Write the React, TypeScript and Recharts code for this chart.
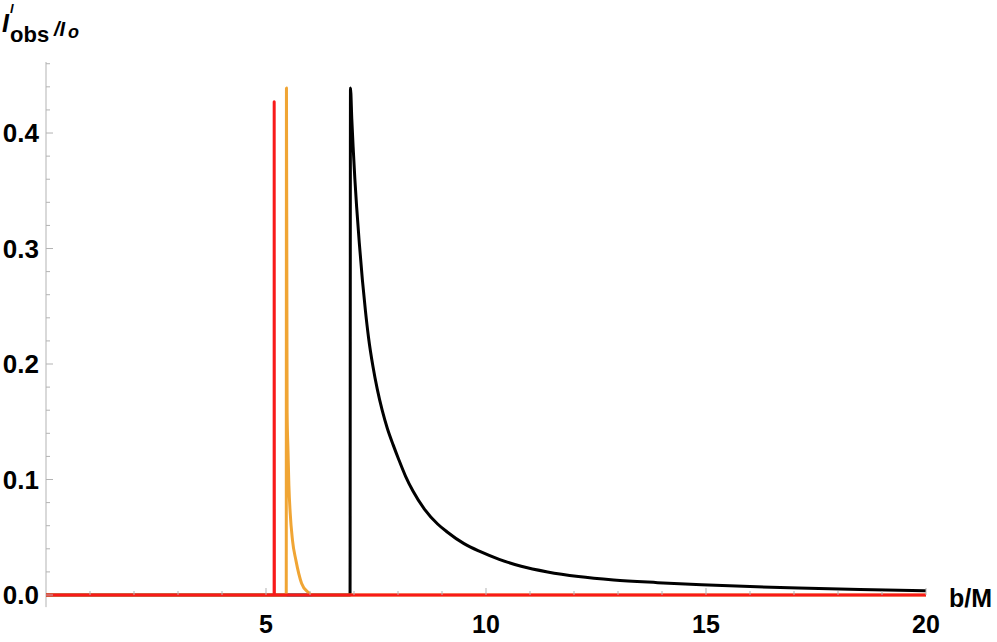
import React from 'react';
import { LineChart, Line, XAxis, YAxis, ReferenceLine } from 'recharts';

// black curve (outer ring)
const blackB = [0, 6.91, 6.92, 6.95, 6.98, 7.02, 7.06, 7.12, 7.19, 7.26, 7.33, 7.43, 7.53, 7.64, 7.76, 7.89, 8.01, 8.17, 8.34, 8.6, 8.9, 9.11, 9.5, 9.86, 10.3, 10.8, 11.4, 12.1, 12.9, 13.9, 14.9, 16, 17.1, 18.5, 20];
const blackI = [0, 0, 0.439, 0.412, 0.388, 0.36, 0.336, 0.305, 0.273, 0.246, 0.223, 0.198, 0.178, 0.16, 0.144, 0.13, 0.118, 0.103, 0.09, 0.0744, 0.0615, 0.0548, 0.0445, 0.0377, 0.0309, 0.0249, 0.02, 0.016, 0.013, 0.0107, 0.0088, 0.0073, 0.0061, 0.0048, 0.0036];

// orange curve
const orangeB = [0, 5.46, 5.465, 5.475, 5.48, 5.5, 5.52, 5.55, 5.6, 5.68, 5.81, 5.95, 6.05, 20];
const orangeI = [0, 0, 0.439, 0.25, 0.158, 0.125, 0.095, 0.071, 0.048, 0.03, 0.01, 0.0026, 0, 0];

// red curve (thin spike)
const redB = [0, 5.185, 5.186, 5.19, 20];
const redI = [0, 0, 0.427, 0, 0];

const xTicks = [1, 2, 3, 4, 5, 6, 7, 8, 9, 10, 11, 12, 13, 14, 15, 16, 17, 18, 19, 20];
const xMajor = [5, 10, 15, 20];
const yTicks = [0, 0.02, 0.04, 0.06, 0.08, 0.1, 0.12, 0.14, 0.16, 0.18, 0.2, 0.22, 0.24, 0.26, 0.28, 0.3, 0.32, 0.34, 0.36, 0.38, 0.4, 0.42, 0.44, 0.46];
const yMajor = [0, 0.1, 0.2, 0.3, 0.4];

const toSeries = (bs: number[], is: number[]) => bs.map((b, i) => ({ b, I: is[i] }));

const blackData = toSeries(blackB, blackI);
const orangeData = toSeries(orangeB, orangeI);
const redData = toSeries(redB, redI);

const axisGrey = '#b3b3b3';
const font = '"Liberation Sans", Arial, sans-serif';

const YTick = (props: any) => {
  const { x, y, payload } = props;
  const v = payload.value;
  const major = yMajor.includes(v);
  return (
    <g>
      <line x1={x} x2={x + (major ? 7 : 4)} y1={y} y2={y} stroke={axisGrey} strokeWidth={1} />
      {major && (
        <text x={x - 7} y={y} dy="0.36em" textAnchor="end" fontFamily={font} fontWeight="bold" fontSize={26} fill="#000">
          {v.toFixed(1)}
        </text>
      )}
    </g>
  );
};

const XTick = (props: any) => {
  const { x, y, payload } = props;
  const v = payload.value;
  const major = xMajor.includes(v);
  return (
    <g>
      <line x1={x} x2={x} y1={y} y2={y - (major ? 7 : 4)} stroke={axisGrey} strokeWidth={1} />
      {major && (
        <text x={x} y={y + 38} textAnchor="middle" fontFamily={font} fontWeight="bold" fontSize={25} fill="#000">
          {v}
        </text>
      )}
    </g>
  );
};

export default function App() {
  return (
    <div style={{ position: 'relative', width: 997, height: 642, background: '#fff' }}>
      <style>{`body{margin:0}`}</style>
      <LineChart width={997} height={642} margin={{ top: 62, right: 71, bottom: 7, left: 0 }}>
        <XAxis
          dataKey="b"
          type="number"
          domain={[0, 20]}
          ticks={xTicks}
          interval={0}
          tickSize={0}
          tickMargin={0}
          tickLine={false}
          axisLine={false}
          tick={<XTick />}
          height={40}
        />
        <YAxis
          type="number"
          domain={[0, 0.4615]}
          ticks={yTicks}
          interval={0}
          tickSize={0}
          tickMargin={0}
          tickLine={false}
          axisLine={false}
          tick={<YTick />}
          width={46}
        />
        <ReferenceLine
          segment={[{ x: 0, y: -0.0105 }, { x: 0, y: 0.4615 }]}
          stroke={axisGrey}
          strokeWidth={1}
          ifOverflow="visible"
        />
        <Line data={blackData} dataKey="I" type="monotone" stroke="#000" strokeWidth={3} dot={false} activeDot={false} strokeLinejoin="round" isAnimationActive={false} />
        <Line data={orangeData} dataKey="I" type="monotone" stroke="#f0a534" strokeWidth={3} dot={false} activeDot={false} strokeLinejoin="round" isAnimationActive={false} />
        <Line data={redData} dataKey="I" type="linear" stroke="#f81a1a" strokeWidth={3} dot={false} activeDot={false} strokeLinejoin="round" isAnimationActive={false} />
      </LineChart>
      <svg width={997} height={642} style={{ position: 'absolute', left: 0, top: 0, pointerEvents: 'none' }}>
        <g fontFamily={font} fontWeight="bold" fill="#000">
          <text x={2} y={32} fontSize={25} fontStyle="italic">I</text>
          <text x={10} y={13} fontSize={13} fontStyle="italic">l</text>
          <text x={10} y={42} fontSize={22}>obs</text>
          <text x={54} y={36} fontSize={20} fontStyle="italic">/I</text>
          <text x={68} y={38} fontSize={18} fontStyle="italic">o</text>
          <text x={949} y={607} fontSize={25}>b/M</text>
        </g>
      </svg>
    </div>
  );
}
